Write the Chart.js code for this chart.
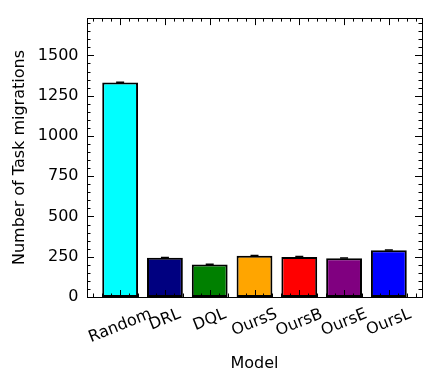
<!DOCTYPE html>
<html>
<head>
<meta charset="utf-8">
<script src="https://cdn.jsdelivr.net/npm/chart.js@4/dist/chart.umd.min.js"></script>
<style>
html,body{margin:0;padding:0;background:#fff;}
canvas{display:block;}
</style>
</head>
<body>
<canvas id="c" width="423" height="373"></canvas>
<script>
const categories = ["Random", "DRL", "DQL", "OursS", "OursB", "OursE", "OursL"];
const migrations = [1332, 244, 202, 256, 249, 240, 290];
const errors = [2, 2, 2, 2, 2, 2, 2];
const barColors = ["#00FFFF", "#000080", "#008000", "#FFA500", "#FF0000", "#800080", "#0000FF"];
const yTicks = [0, 250, 500, 750, 1000, 1250, 1500];

const FONT = '"DejaVu Sans", sans-serif';
const LABEL_ROT = 22 * Math.PI / 180;

const xMin = -0.4 - 0.05 * (categories.length - 1 + 0.8);
const xMax = categories.length - 1 + 0.4 + 0.05 * (categories.length - 1 + 0.8);
const yMax = Math.max(...migrations) * 1.3;

const framePlugin = {
  id: 'framePlugin',
  afterDatasetsDraw(chart) {
    const {ctx, chartArea: a, scales: {x, y}} = chart;
    ctx.save();
    ctx.strokeStyle = '#000';
    // error bars
    ctx.lineWidth = 1.5;
    migrations.forEach((v, i) => {
      const px = x.getPixelForValue(i);
      const y1 = y.getPixelForValue(v - errors[i]);
      const y2 = y.getPixelForValue(v + errors[i]);
      ctx.beginPath();
      ctx.moveTo(px, y1); ctx.lineTo(px, y2);
      ctx.moveTo(px - 4, y2); ctx.lineTo(px + 4, y2);
      ctx.stroke();
    });
    ctx.lineWidth = 1;
    const line = (x1, y1, x2, y2) => { ctx.beginPath(); ctx.moveTo(x1, y1); ctx.lineTo(x2, y2); ctx.stroke(); };
    // y ticks (major 250, minor 50)
    for (let v = 0; v <= y.max; v += 50) {
      const py = Math.round(y.getPixelForValue(v)) + 0.5;
      const len = (v % 250 === 0) ? 7 : 3.5;
      line(a.left, py, a.left + len, py);
      line(a.right, py, a.right - len, py);
    }
    // x ticks (major 1, minor 0.2)
    for (let k = Math.ceil(x.min * 5); k <= Math.floor(x.max * 5); k++) {
      const px = Math.round(x.getPixelForValue(k / 5)) + 0.5;
      const len = (k % 5 === 0) ? 7 : 3.5;
      line(px, a.bottom, px, a.bottom - len);
      line(px, a.top, px, a.top + len);
    }
    ctx.strokeRect(Math.round(a.left) + 0.5, Math.round(a.top) + 0.5, Math.round(a.width), Math.round(a.height));
    ctx.restore();
  },
  afterDraw(chart) {
    const {ctx, chartArea: a, scales: {x}} = chart;
    ctx.save();
    ctx.font = '16px ' + FONT;
    ctx.fillStyle = '#000';
    ctx.textAlign = 'center';
    ctx.textBaseline = 'middle';
    const h = 16 * 1.17;
    categories.forEach((lab, i) => {
      const px = x.getPixelForValue(i);
      const w = ctx.measureText(lab).width;
      const cy = a.bottom + 8 + (w * Math.sin(LABEL_ROT) + h * Math.cos(LABEL_ROT)) / 2;
      ctx.save();
      ctx.translate(px, cy);
      ctx.rotate(-LABEL_ROT);
      ctx.fillText(lab, 0, 0);
      ctx.restore();
    });
    ctx.restore();
  }
};

new Chart(document.getElementById('c'), {
  type: 'bar',
  data: {
    datasets: [{
      data: migrations.map((v, i) => ({x: i, y: v})),
      backgroundColor: barColors,
      borderColor: '#000',
      borderWidth: 2,
      borderSkipped: false,
      categoryPercentage: 1,
      barPercentage: 0.8
    }]
  },
  options: {
    responsive: false,
    animation: false,
    devicePixelRatio: 1,
    layout: {padding: {left: 0, top: 9, right: 1, bottom: 0}},
    plugins: {legend: {display: false}, tooltip: {enabled: false}},
    scales: {
      x: {
        type: 'linear',
        offset: false,
        min: xMin,
        max: xMax,
        grid: {display: false, offset: false},
        border: {display: false},
        ticks: {display: false},
        title: {display: true, text: 'Model', color: '#000', font: {family: FONT, size: 16}, padding: {top: 0, bottom: 0}},
        afterFit(s) { s.height = 76; }
      },
      y: {
        min: 0,
        max: yMax,
        afterBuildTicks(s) { s.ticks = yTicks.map(v => ({value: v})); },
        grid: {display: false, drawTicks: false},
        border: {display: false},
        ticks: {color: '#000', font: {family: FONT, size: 16}, padding: 8.5, callback: v => String(v)},
        title: {display: true, text: 'Number of Task migrations', color: '#000', font: {family: FONT, size: 16}, padding: {top: 10, bottom: 0}},
        afterFit(s) { s.width = 87; }
      }
    }
  },
  plugins: [framePlugin]
});
</script>
</body>
</html>
